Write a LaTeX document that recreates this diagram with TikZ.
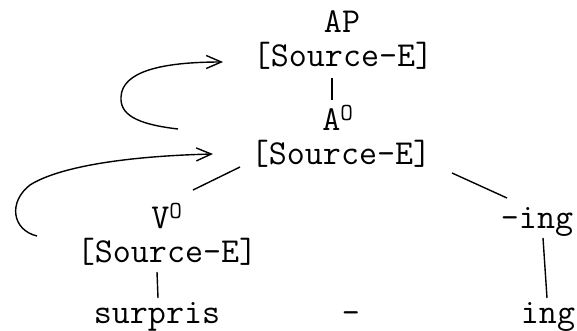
\documentclass[tikz,border=0pt]{standalone}
\usepackage{fontspec}
\usetikzlibrary{arrows.meta}
\begin{document}
\begin{tikzpicture}[x=1pt,y=-1pt,
  lab/.style={inner sep=0pt,anchor=base,font=\fontsize{35}{40}\selectfont\ttfamily},
  edge/.style={line width=1.4pt},
  curv/.style={line width=1.4pt,-{Straight Barb[length=15pt,width=13pt,line width=1.4pt]}}]
\useasboundingbox (0,0) rectangle (577,330);
\node[lab] (AP) at (342,32) {AP};
\node[lab] (topSE) at (343,66) {[Source-E]};
\node[lab] (AO) at (338,130) {A\textsuperscript{O}};
\node[lab] (midSE) at (341,164) {[Source-E]};
\node[lab] (VO) at (167,228) {V\textsuperscript{O}};
\node[lab] (botSE) at (167,262) {[Source-E]};
\node[lab] (ingA) at (537,228) {-ing};
\node[lab] (surpris) at (157,323) {surpris};
\node[lab] (dash) at (351,323) {-};
\node[lab] (ingB) at (548,323) {ing};
% tree lines
\draw[edge] ([shift={(-11,12)}]topSE.base) -- ([shift={(-6,-30)}]AO.base);
\draw[edge] ([shift={(-101,3)}]midSE.base) -- ([shift={(26,-38)}]VO.base);
\draw[edge] ([shift={(111,9)}]midSE.base) -- ([shift={(-30,-30)}]ingA.base);
\draw[edge] ([shift={(6,10)}]ingA.base) -- ([shift={(-1,-25)}]ingB.base);
\draw[edge] ([shift={(-10,10)}]botSE.base) -- ([shift={(1,-25)}]surpris.base);
% curved arrows
\coordinate (s1) at ([shift={(-160,-1)}]AO.base);
\coordinate (s2) at ([shift={(-130,-26)}]botSE.base);
\draw[curv] (s1) .. controls (135,124) and (120,114) .. (121,97)
  .. controls (122,72) and (160,62) .. ([shift={(-120,-4)}]topSE.base);
\draw[curv] (s2) .. controls (12,230) and (8,202) .. (30,185)
  .. controls (60,166) and (130,156) .. ([shift={(-128,-10)}]midSE.base);
\end{tikzpicture}
\end{document}
